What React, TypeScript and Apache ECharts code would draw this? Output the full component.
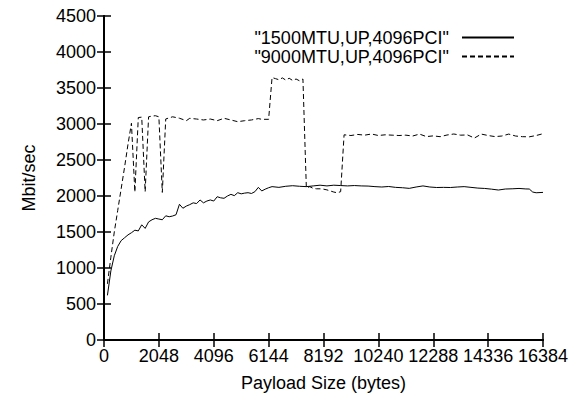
import React, { useEffect, useRef } from "react";
import * as echarts from "echarts";

const xTicks = [0, 2048, 4096, 6144, 8192, 10240, 12288, 14336, 16384];
const yTicks = [0, 500, 1000, 1500, 2000, 2500, 3000, 3500, 4000, 4500];

const seriesNames = ['"1500MTU,UP,4096PCI"', '"9000MTU,UP,4096PCI"'];

const x1500 = [
  128, 256, 384, 512, 640, 768, 896, 1024, 1152, 1280, 1408, 1536, 1664, 1792, 1920, 2048,
  2176, 2304, 2432, 2560, 2688, 2816, 2944, 3072, 3200, 3328, 3456, 3584, 3712, 3840, 3968,
  4096, 4224, 4352, 4480, 4608, 4736, 4864, 4992, 5120, 5248, 5376, 5504, 5632, 5760, 5888,
  6016, 6144, 6272, 6528, 6784, 7040, 7296, 7552, 7808, 8064, 8320, 8576, 8832, 9088, 9344,
  9600, 9856, 10112, 10368, 10624, 10880, 11136, 11392, 11648, 11904, 12160, 12416, 12672,
  12928, 13184, 13440, 13696, 13952, 14208, 14464, 14720, 14976, 15232, 15488, 15744, 15872,
  16000, 16128, 16384,
];
const y1500 = [
  620, 960, 1170, 1300, 1380, 1420, 1460, 1490, 1525, 1515, 1600, 1550, 1640, 1670, 1690, 1680,
  1670, 1725, 1712, 1722, 1740, 1885, 1830, 1860, 1880, 1905, 1895, 1945, 1905, 1930, 1945,
  1930, 1990, 1975, 1968, 2000, 2023, 2005, 2046, 2030, 2040, 2046, 2035, 2060, 2120, 2070,
  2095, 2115, 2130, 2120, 2135, 2143, 2135, 2130, 2140, 2150, 2140, 2150, 2145, 2140, 2145,
  2140, 2138, 2130, 2125, 2132, 2120, 2115, 2106, 2125, 2140, 2125, 2118, 2120,
  2118, 2125, 2130, 2120, 2110, 2105, 2095, 2083, 2097, 2100, 2105, 2098, 2097,
  2055, 2045, 2050,
];

const x9000 = [
  128, 256, 384, 512, 640, 768, 896, 1024, 1152, 1280, 1408, 1536, 1664, 1792, 1920, 2048,
  2176, 2304, 2560, 2816, 3072, 3200, 3456, 3712, 3968, 4224, 4480, 4736, 4992, 5248, 5504,
  5760, 5888, 6144, 6272, 6400, 6528, 6656, 6784, 6912, 7040, 7168, 7296, 7424, 7552, 7680,
  7808, 7936, 8064, 8192, 8320, 8448, 8576, 8704, 8832, 8960, 9216, 9472, 9728, 9984, 10240,
  10496, 10752, 11008, 11264, 11520, 11776, 12032, 12288, 12544, 12800, 13056, 13312, 13568,
  13824, 14080, 14336, 14592, 14848, 15104, 15360, 15616, 15872, 16128, 16384,
];
const y9000 = [
  780, 1150, 1500, 1800, 2100, 2400, 2720, 3010, 2055, 3090, 3095, 2060, 3100, 3110, 3115, 3100,
  2050, 3070, 3100, 3080, 3046, 3079, 3069, 3056, 3069, 3046, 3079, 3056, 3032, 3046, 3056,
  3075, 3065, 3065, 3645, 3630, 3615, 3640, 3610, 3635, 3605, 3625, 3600, 3625, 2110, 2130,
  2105, 2100, 2100, 2095, 2085, 2070, 2055, 2045, 2060, 2850, 2840, 2855, 2845, 2861, 2840,
  2850, 2845, 2840, 2845, 2833, 2860, 2825, 2835, 2824, 2847, 2861, 2845, 2848,
  2805, 2860, 2840, 2825, 2833, 2860, 2833, 2824, 2822, 2840, 2865,
];

const FONT = "Liberation Sans, Arial, Helvetica, sans-serif";
const FS = 18;

export default function App() {
  const ref = useRef<HTMLDivElement>(null);
  useEffect(() => {
    if (!ref.current) return;
    const chart = echarts.init(ref.current, null, { renderer: "svg" });
    const xMax = xTicks[xTicks.length - 1];
    const yMax = yTicks[yTicks.length - 1];
    const xInt = xTicks[1] - xTicks[0];
    const yInt = yTicks[1] - yTicks[0];
    const axisLine = { show: true, lineStyle: { color: "#000", width: 2 } };
    const tick = { show: true, inside: true, length: 7, lineStyle: { color: "#000", width: 1.5 } };
    const fmt = (v: number) => String(v);
    chart.setOption({
      animation: false,
      backgroundColor: "#fff",
      grid: { left: 104, right: 29, top: 16, bottom: 60 },
      legend: {
        orient: "vertical",
        right: 52,
        top: 23,
        align: "right",
        itemWidth: 52,
        itemHeight: 19,
        itemGap: 0,
        itemStyle: { opacity: 0 },
        textStyle: { fontSize: FS, color: "#000", fontFamily: FONT, lineHeight: 19, padding: [0, 8, 0, 0] },
        data: seriesNames,
      },
      xAxis: [
        {
          type: "value",
          min: 0,
          max: xMax,
          interval: xInt,
          position: "bottom",
          name: "Payload Size (bytes)",
          nameLocation: "middle",
          nameGap: 34,
          nameTextStyle: { fontSize: FS, color: "#000", fontFamily: FONT },
          axisLine,
          axisTick: tick,
          splitLine: { show: false },
          axisLabel: { fontSize: FS, color: "#000", fontFamily: FONT, margin: 7, formatter: fmt },
        },
        {
          type: "value",
          min: 0,
          max: xMax,
          interval: xInt,
          position: "top",
          axisLine,
          axisTick: tick,
          splitLine: { show: false },
          axisLabel: { show: false },
        },
      ],
      yAxis: [
        {
          type: "value",
          min: 0,
          max: yMax,
          interval: yInt,
          position: "left",
          name: "Mbit/sec",
          nameLocation: "middle",
          nameGap: 66,
          nameTextStyle: { fontSize: FS, color: "#000", fontFamily: FONT },
          axisLine,
          axisTick: tick,
          splitLine: { show: false },
          axisLabel: { fontSize: FS, color: "#000", fontFamily: FONT, margin: 8, formatter: fmt },
        },
        {
          type: "value",
          min: 0,
          max: yMax,
          interval: yInt,
          position: "right",
          axisLine,
          axisTick: tick,
          splitLine: { show: false },
          axisLabel: { show: false },
        },
      ],
      series: [
        {
          name: seriesNames[0],
          type: "line",
          xAxisIndex: 0,
          yAxisIndex: 0,
          symbol: "none",
          lineStyle: { color: "#000", width: 1, type: "solid" },
          itemStyle: { color: "#000" },
          data: x1500.map((x, i) => [x, y1500[i]]),
        },
        {
          name: seriesNames[1],
          type: "line",
          xAxisIndex: 0,
          yAxisIndex: 0,
          symbol: "none",
          lineStyle: { color: "#000", width: 1, type: [5, 3] },
          itemStyle: { color: "#000" },
          data: x9000.map((x, i) => [x, y9000[i]]),
        },
      ],
    });
    return () => chart.dispose();
  }, []);
  return (
    <div
      ref={ref}
      style={{ position: "fixed", left: 0, top: 0, width: 572, height: 400, background: "#fff" }}
    />
  );
}
